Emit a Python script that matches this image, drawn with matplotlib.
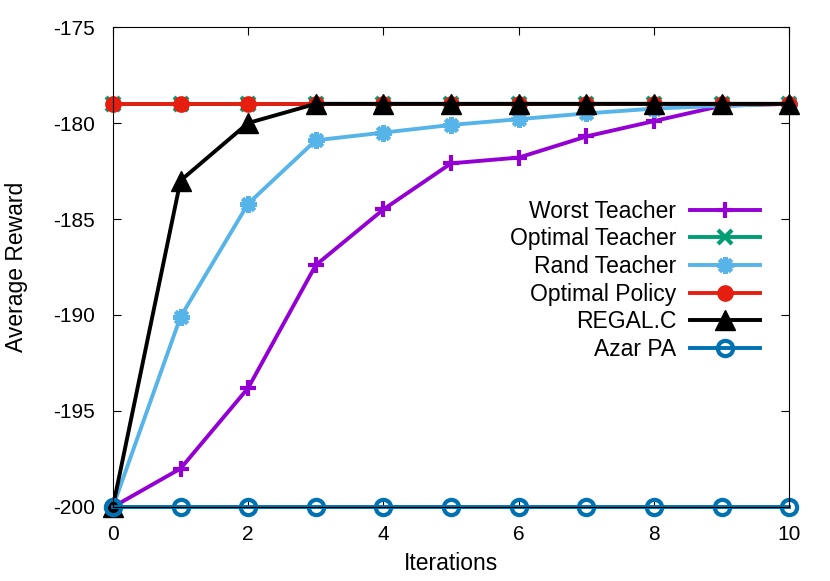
import matplotlib
matplotlib.use("Agg")
import matplotlib.pyplot as plt

plt.rcParams['font.family'] = ['Liberation Sans', 'DejaVu Sans']
plt.rcParams['axes.unicode_minus'] = False

iterations = [0, 1, 2, 3, 4, 5, 6, 7, 8, 9, 10]
worst_teacher = [-200, -198.0, -193.8, -187.4, -184.5, -182.1, -181.8, -180.7, -179.9, -179.1, -179]
optimal_teacher = [-179] * 11
rand_teacher = [-200, -190.1, -184.2, -180.9, -180.5, -180.1, -179.8, -179.5, -179.25, -179.1, -179]
optimal_policy = [-179] * 11
regal_c = [-200, -183, -180, -179, -179, -179, -179, -179, -179, -179, -179]
azar_pa = [-200] * 11

fig = plt.figure(figsize=(8.3, 5.81), dpi=100)
ax = fig.add_axes([0.136, 0.1274, 0.815, 0.8261])

lw = 2.8
ax.plot(iterations, worst_teacher, color='#9400d3', lw=lw, marker='+', ms=12, mew=3,
        label='Worst Teacher', clip_on=False)
ax.plot(iterations, optimal_teacher, color='#009e73', lw=lw, marker='x', ms=10, mew=3,
        label='Optimal Teacher', clip_on=False)
ax.plot(iterations, rand_teacher, color='#56b4e9', lw=lw, marker=(8, 2, 0), ms=12, mew=3,
        label='Rand Teacher', clip_on=False)
ax.plot(iterations, optimal_policy, color='#e51e10', lw=lw, marker='o', ms=11,
        label='Optimal Policy', clip_on=False)
ax.plot(iterations, regal_c, color='black', lw=lw, marker='^', ms=14,
        label='REGAL.C', clip_on=False)
ax.plot(iterations, azar_pa, color='#0072b2', lw=lw, marker='o', ms=11, mfc='none', mew=3,
        label='Azar PA', clip_on=False)

ax.set_xlim(0, 10)
ax.set_ylim(-200, -175)
ax.set_xticks([0, 2, 4, 6, 8, 10])
ax.set_yticks([-200, -195, -190, -185, -180, -175])
ax.tick_params(direction='in', length=6, top=True, right=True, labelsize=15, pad=13)
ax.set_xlabel('Iterations', fontsize=16.5, labelpad=6)
ax.set_ylabel('Average Reward', fontsize=16.5, labelpad=18)

leg = ax.legend(loc='upper right', bbox_to_anchor=(0.987, 0.683), frameon=False, fontsize=16.5,
                markerfirst=False, handlelength=3.05, labelspacing=0.2, handletextpad=0.6,
                numpoints=1)
for t in leg.get_texts():
    t.set_ha('right')

fig.savefig('out.png', dpi=100)
